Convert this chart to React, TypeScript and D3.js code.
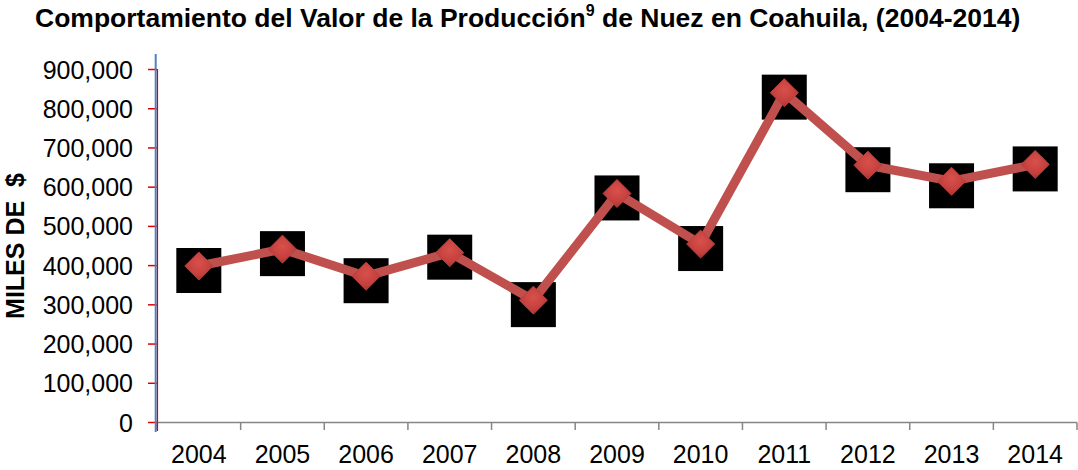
import React from "react";
import * as d3 from "d3";

const WIDTH = 1078;
const HEIGHT = 470;

const years = ["2004", "2005", "2006", "2007", "2008", "2009", "2010", "2011", "2012", "2013", "2014"];
const values = [399000, 442000, 373000, 433000, 312000, 584000, 455000, 841000, 656000, 615000, 658000];
const yTicks = [0, 100000, 200000, 300000, 400000, 500000, 600000, 700000, 800000, 900000];

const FONT = "'Liberation Sans', Arial, sans-serif";
const LINE_COLOR = "#c0504d";

export default function App() {
  // plot area
  const x0 = 157;
  const x1 = 1077;
  const yZero = 422.5;
  const yTop = 69.5;

  const xScale = d3.scaleBand().domain(years).range([x0, x1]).padding(0);
  const yScale = d3.scaleLinear().domain([0, 900000]).range([yZero, yTop]);
  const fmt = d3.format(",");

  const pts = years.map((yr, i) => ({
    x: (xScale(yr) as number) + xScale.bandwidth() / 2,
    y: yScale(values[i]),
  }));

  const line = d3
    .line<{ x: number; y: number }>()
    .x((d) => d.x)
    .y((d) => d.y)(pts);

  const diamond = (cx: number, cy: number, r: number) =>
    `M${cx},${cy - r}L${cx + r},${cy}L${cx},${cy + r}L${cx - r},${cy}Z`;

  const boundaries = d3.range(years.length + 1).map((i) => x0 + i * xScale.bandwidth());

  return (
    <svg
      width={WIDTH}
      height={HEIGHT}
      style={{ position: "absolute", left: 0, top: 0, background: "#fff" }}
      fontFamily={FONT}
    >
      <defs>
        <radialGradient id="dia" cx="50%" cy="40%" r="60%">
          <stop offset="0%" stopColor="#d9504c" />
          <stop offset="70%" stopColor="#c4403d" />
          <stop offset="100%" stopColor="#a5302e" />
        </radialGradient>
      </defs>

      {/* title */}
      <text x={35} y={27} fontSize={26.5} fontWeight="bold" fill="#000">
        Comportamiento del Valor de la Producción
        <tspan fontSize={16} dy={-11}>9</tspan>
        <tspan dy={11}> de Nuez en Coahuila, (2004-2014)</tspan>
      </text>

      {/* y axis title */}
      <text
        transform={`translate(23.5,246) rotate(-90)`}
        textAnchor="middle"
        fontSize={25}
        fontWeight="bold"
        style={{ whiteSpace: "pre" }}
      >
        {"MILES DE  $"}
      </text>

      {/* y tick labels + red ticks */}
      {yTicks.map((t) => (
        <g key={t}>
          <text x={133} y={yScale(t) + 9} textAnchor="end" fontSize={25} fill="#000">
            {fmt(t)}
          </text>
          <line x1={148} x2={157} y1={yScale(t)} y2={yScale(t)} stroke="#e00000" strokeWidth={1.5} />
        </g>
      ))}

      {/* x axis */}
      <line x1={x0} x2={x1} y1={yZero} y2={yZero} stroke="#868686" strokeWidth={1.5} />
      {boundaries.map((bx, i) => (
        <line key={i} x1={bx} x2={bx} y1={yZero} y2={430} stroke="#868686" strokeWidth={1.5} />
      ))}
      {years.map((yr) => (
        <text
          key={yr}
          x={(xScale(yr) as number) + xScale.bandwidth() / 2}
          y={463}
          textAnchor="middle"
          fontSize={25}
          fill="#000"
        >
          {yr}
        </text>
      ))}

      {/* y axis lines */}
      <line x1={155.7} x2={155.7} y1={54} y2={432} stroke="#4f81bd" strokeWidth={2} />
      <line x1={157.5} x2={157.5} y1={69} y2={431} stroke="#e00000" strokeWidth={1.2} />

      {/* black squares */}
      {pts.map((p, i) => (
        <rect key={i} x={p.x - 22.5} y={p.y - 18} width={45} height={45} fill="#000" />
      ))}

      {/* series line */}
      <path d={line ?? ""} fill="none" stroke={LINE_COLOR} strokeWidth={9} strokeLinejoin="miter" />

      {/* diamonds */}
      {pts.map((p, i) => (
        <path key={i} d={diamond(p.x, p.y, 14)} fill="url(#dia)" stroke="#b8423f" strokeWidth={1} />
      ))}
    </svg>
  );
}
